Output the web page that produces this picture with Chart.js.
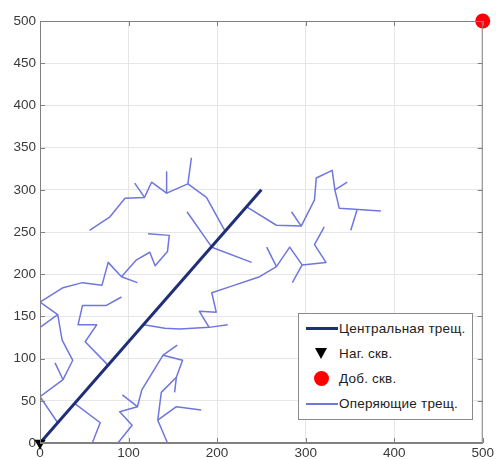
<!DOCTYPE html>
<html>
<head>
<meta charset="utf-8">
<script src="https://cdn.jsdelivr.net/npm/chart.js@4.4.1/dist/chart.umd.min.js"></script>
<style>
    html, body { margin: 0; padding: 0; background: #fff; }
    #wrap { position: relative; width: 496px; height: 459px; }
    #legenda {
        position: absolute; left: 298px; top: 313px; width: 175px; height: 107px;
        box-sizing: border-box; border: 1px solid #8a8a8a; background: #fff;
        padding-top: 2px;
        font-family: 'Liberation Sans', Arial, sans-serif; font-size: 13.5px; letter-spacing: 0.2px; color: #222;
        white-space: nowrap; overflow: hidden;
    }
    .fila { display: flex; align-items: center; height: 25px; }
    .muestra { width: 40px; height: 25px; position: relative; flex-shrink: 0; }
</style>
</head>
<body>
<div id="wrap">
    <canvas id="chartTresh"></canvas>
    <div id="legenda"></div>
</div>
<script>
// ── Datos ────────────────────────────────────────────────────────────────
var xTicks = [0, 100, 200, 300, 400, 500];
var yTicks = [0, 50, 100, 150, 200, 250, 300, 350, 400, 450, 500];

var centralCrack = [[0, 0], [250, 300]];
var injWell = [[0, 0]];
var prodWell = [[500, 500]];

// оперяющие трещины: каждая ломаная отдельно
var featherCracks = [
    [[56, 252], [79, 268], [96, 290], [118, 291], [126, 309], [143, 296], [167, 307], [188, 291], [209, 251]],
    [[107, 308], [118, 291]],
    [[143, 321], [143, 296]],
    [[171, 338], [167, 307]],
    [[166, 274], [194, 232], [239, 214]],
    [[233, 280], [267, 258], [295, 257], [310, 288], [312, 314], [330, 323], [333, 300], [338, 278], [385, 275]],
    [[284, 274], [295, 257]],
    [[333, 300], [347, 309]],
    [[358, 276], [351, 252]],
    [[321, 256], [310, 235], [323, 214], [296, 211], [282, 232], [267, 209], [248, 197], [214, 185], [194, 178], [199, 155], [180, 156], [191, 137]],
    [[256, 232], [267, 209]],
    [[296, 211], [285, 190]],
    [[117, 140], [141, 136], [158, 135], [191, 137], [212, 140]],
    [[0, 167], [26, 184], [48, 190], [70, 187], [77, 214], [92, 197], [110, 190]],
    [[92, 197], [109, 217], [124, 226], [130, 210], [144, 227], [146, 246], [122, 248]],
    [[92, 173], [75, 163], [48, 163], [43, 140], [64, 140], [51, 120], [77, 92]],
    [[0, 137], [20, 152]],
    [[0, 167], [20, 152], [25, 122], [37, 98], [26, 75], [0, 55], [20, 24]],
    [[17, 95], [26, 75]],
    [[39, 47], [68, 24], [59, 0]],
    [[93, 57], [110, 43], [115, 63], [139, 104], [161, 98], [154, 78], [137, 60], [133, 27], [144, 0]],
    [[139, 104], [155, 116]],
    [[154, 78], [152, 60]],
    [[133, 27], [154, 43], [182, 39]],
    [[110, 43], [90, 37], [104, 21], [88, 0]]
];

var legendLabels = ['Центральная трещ.', 'Наг. скв.', 'Доб. скв.', 'Оперяющие трещ.'];

var C_CENTRAL = '#1f2e78';
var C_FEATHER = '#6f76de';
var C_WELL_INJ = '#000000';
var C_WELL_PROD = '#ff0000';
var C_AXIS = '#808080';

function pts(arr) {
    return arr.map(function (p) { return { x: p[0], y: p[1] }; });
}

// ── Datasets ─────────────────────────────────────────────────────────────
var datasets = [
    {
        label: legendLabels[1], data: pts(injWell), showLine: false, clip: false,
        pointStyle: 'triangle', rotation: 180, pointRadius: 6.5,
        backgroundColor: C_WELL_INJ, borderColor: C_WELL_INJ, borderWidth: 0
    },
    {
        label: legendLabels[2], data: pts(prodWell), showLine: false, clip: false,
        pointStyle: 'circle', pointRadius: 7.5,
        backgroundColor: C_WELL_PROD, borderColor: C_WELL_PROD, borderWidth: 0
    },
    {
        label: legendLabels[0], data: pts(centralCrack), showLine: true,
        borderColor: C_CENTRAL, borderWidth: 3, pointRadius: 0
    }
];
featherCracks.forEach(function (f) {
    datasets.push({
        label: legendLabels[3], data: pts(f), showLine: true,
        borderColor: C_FEATHER, borderWidth: 1.5, pointRadius: 0,
        borderJoinStyle: 'round'
    });
});

// рамка и внутренние риски как в MATLAB
var boxPlugin = {
    id: 'boxPlugin',
    afterDraw: function (chart) {
        var a = chart.chartArea, ctx = chart.ctx;
        var sx = chart.scales.x, sy = chart.scales.y;
        ctx.save();
        ctx.strokeStyle = C_AXIS;
        ctx.lineWidth = 1;
        ctx.strokeRect(a.left + 0.5, a.top + 0.5, a.right - a.left - 1, a.bottom - a.top - 1);
        ctx.beginPath();
        xTicks.forEach(function (v) {
            var px = Math.round(sx.getPixelForValue(v)) + 0.5;
            ctx.moveTo(px, a.bottom); ctx.lineTo(px, a.bottom - 5);
            ctx.moveTo(px, a.top); ctx.lineTo(px, a.top + 5);
        });
        yTicks.forEach(function (v) {
            var py = Math.round(sy.getPixelForValue(v)) + 0.5;
            ctx.moveTo(a.left, py); ctx.lineTo(a.left + 5, py);
            ctx.moveTo(a.right, py); ctx.lineTo(a.right - 5, py);
        });
        ctx.stroke();
        ctx.restore();
    }
};

var tickFont = { family: "'Liberation Sans', Arial, sans-serif", size: 13.5 };

new Chart(document.getElementById('chartTresh'), {
    type: 'scatter',
    data: { datasets: datasets },
    options: {
        responsive: true,
        maintainAspectRatio: false,
        animation: false,
        layout: { padding: { top: 21, right: 12, left: 0, bottom: 0 } },
        plugins: { legend: { display: false }, tooltip: { enabled: false } },
        scales: {
            x: {
                type: 'linear', min: 0, max: 500,
                afterBuildTicks: function (s) { s.ticks = xTicks.map(function (v) { return { value: v }; }); },
                afterFit: function (s) { s.height = 16; },
                grid: { color: '#e6e6e6', drawTicks: false },
                border: { color: C_AXIS },
                ticks: { padding: 2, color: '#3a3a3a', font: tickFont, maxRotation: 0 }
            },
            y: {
                type: 'linear', min: 0, max: 500,
                afterBuildTicks: function (s) { s.ticks = yTicks.map(function (v) { return { value: v }; }); },
                afterFit: function (s) { s.width = 40; },
                grid: { color: '#e6e6e6', drawTicks: false },
                border: { color: C_AXIS },
                ticks: { padding: 4, color: '#3a3a3a', font: tickFont }
            }
        }
    },
    plugins: [boxPlugin]
});

// ── Leyenda HTML ─────────────────────────────────────────────────────────
var muestras = [
    '<span style="position:absolute;left:7px;top:11px;width:32px;height:3px;background:' + C_CENTRAL + ';"></span>',
    '<span style="position:absolute;left:16px;top:7px;width:0;height:0;border-left:6px solid transparent;border-right:6px solid transparent;border-top:11px solid ' + C_WELL_INJ + ';"></span>',
    '<span style="position:absolute;left:15px;top:5px;width:15px;height:15px;border-radius:50%;background:' + C_WELL_PROD + ';"></span>',
    '<span style="position:absolute;left:7px;top:12px;width:32px;height:1.5px;background:' + C_FEATHER + ';"></span>'
];
var leg = document.getElementById('legenda');
legendLabels.forEach(function (l, i) {
    leg.innerHTML +=
        '<div class="fila"><span class="muestra">' + muestras[i] + '</span><span>' + l + '</span></div>';
});
</script>
</body>
</html>
